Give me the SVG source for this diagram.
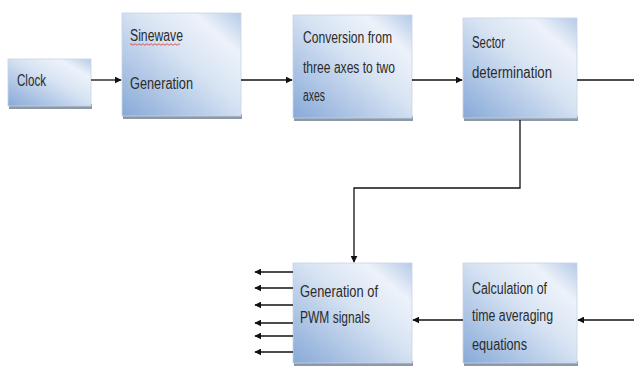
<svg xmlns="http://www.w3.org/2000/svg" width="634" height="367" viewBox="0 0 634 367">
<defs>
<linearGradient id="g" x1="0" y1="1" x2="1" y2="0">
<stop offset="0" stop-color="#87a9d8"/>
<stop offset="0.55" stop-color="#d8e4f3"/>
<stop offset="0.8" stop-color="#edf2fa"/>
<stop offset="1" stop-color="#b5cae7"/>
</linearGradient>
<marker id="ah" viewBox="0 0 10 10" refX="9" refY="5" markerWidth="7" markerHeight="7" markerUnits="userSpaceOnUse" orient="auto">
<path d="M0,0 L10,5 L0,10 z" fill="#111"/>
</marker>
</defs>
<style>
.box{fill:url(#g);stroke:#c8d4e4;stroke-width:0.8}
.sh{fill:#8d99a8}
.t{font-family:"Liberation Sans",Arial,sans-serif;font-size:16px;fill:#2b2b2b}
.c{fill:none;stroke:#111;stroke-width:1.3}
</style>
<rect width="634" height="367" fill="#fff"/>
<g id="clock">
<rect class="sh" x="9" y="104" width="83" height="5"/>
<rect class="box" x="8" y="59" width="83" height="47"/>
<text class="t" x="17" y="86" textLength="29" lengthAdjust="spacingAndGlyphs">Clock</text>
</g>
<g id="sinewave">
<rect class="sh" x="123" y="114" width="119" height="5"/>
<rect class="box" x="122" y="13" width="119" height="103"/>
<text class="t" x="130" y="41" textLength="53" lengthAdjust="spacingAndGlyphs">Sinewave</text>
<path d="M130,44.5 q1,-1.5 2,0 t2,0 t2,0 t2,0 t2,0 t2,0 t2,0 t2,0 t2,0 t2,0 t2,0 t2,0 t2,0 t2,0 t2,0 t2,0 t2,0 t2,0 t2,0 t2,0 t2,0 t2,0 t2,0 t2,0 t2,0" fill="none" stroke="#d33" stroke-width="0.8"/>
<text class="t" x="130" y="89" textLength="63" lengthAdjust="spacingAndGlyphs">Generation</text>
</g>
<g id="conversion">
<rect class="sh" x="294" y="116" width="119" height="5"/>
<rect class="box" x="293" y="15" width="119" height="103"/>
<text class="t" x="303" y="43" textLength="89" lengthAdjust="spacingAndGlyphs">Conversion from</text>
<text class="t" x="303" y="73" textLength="92" lengthAdjust="spacingAndGlyphs">three axes to two</text>
<text class="t" x="303" y="101" textLength="22" lengthAdjust="spacingAndGlyphs">axes</text>
</g>
<g id="sector">
<rect class="sh" x="464" y="116" width="114" height="5"/>
<rect class="box" x="463" y="18" width="114" height="100"/>
<text class="t" x="472" y="48" textLength="33" lengthAdjust="spacingAndGlyphs">Sector</text>
<text class="t" x="472" y="78" textLength="80" lengthAdjust="spacingAndGlyphs">determination</text>
</g>
<g id="pwm">
<rect class="sh" x="294" y="361" width="119" height="5"/>
<rect class="box" x="293" y="263" width="119" height="100"/>
<text class="t" x="300" y="297" textLength="78" lengthAdjust="spacingAndGlyphs">Generation of</text>
<text class="t" x="300" y="323" textLength="70" lengthAdjust="spacingAndGlyphs">PWM signals</text>
</g>
<g id="calc">
<rect class="sh" x="464" y="361" width="114" height="5"/>
<rect class="box" x="463" y="263" width="114" height="100"/>
<text class="t" x="472" y="294" textLength="75" lengthAdjust="spacingAndGlyphs">Calculation of</text>
<text class="t" x="472" y="321" textLength="81" lengthAdjust="spacingAndGlyphs">time averaging</text>
<text class="t" x="472" y="350" textLength="55" lengthAdjust="spacingAndGlyphs">equations</text>
</g>
<g id="connectors">
<line class="c" x1="91" y1="80" x2="121" y2="80" marker-end="url(#ah)"/>
<line class="c" x1="241" y1="80" x2="292" y2="80" marker-end="url(#ah)"/>
<line class="c" x1="412" y1="80" x2="462" y2="80" marker-end="url(#ah)"/>
<line class="c" x1="577" y1="80" x2="634" y2="80"/>
<polyline class="c" points="520,120 520,188 354,188 354,262" marker-end="url(#ah)"/>
<line class="c" x1="634" y1="320" x2="578" y2="320" marker-end="url(#ah)"/>
<line class="c" x1="463" y1="320" x2="413" y2="320" marker-end="url(#ah)"/>
<line class="c" x1="293" y1="272" x2="255" y2="272" marker-end="url(#ah)"/>
<line class="c" x1="293" y1="288" x2="255" y2="288" marker-end="url(#ah)"/>
<line class="c" x1="293" y1="305" x2="255" y2="305" marker-end="url(#ah)"/>
<line class="c" x1="293" y1="323" x2="255" y2="323" marker-end="url(#ah)"/>
<line class="c" x1="293" y1="336" x2="255" y2="336" marker-end="url(#ah)"/>
<line class="c" x1="293" y1="352" x2="255" y2="352" marker-end="url(#ah)"/>
</g>
</svg>
